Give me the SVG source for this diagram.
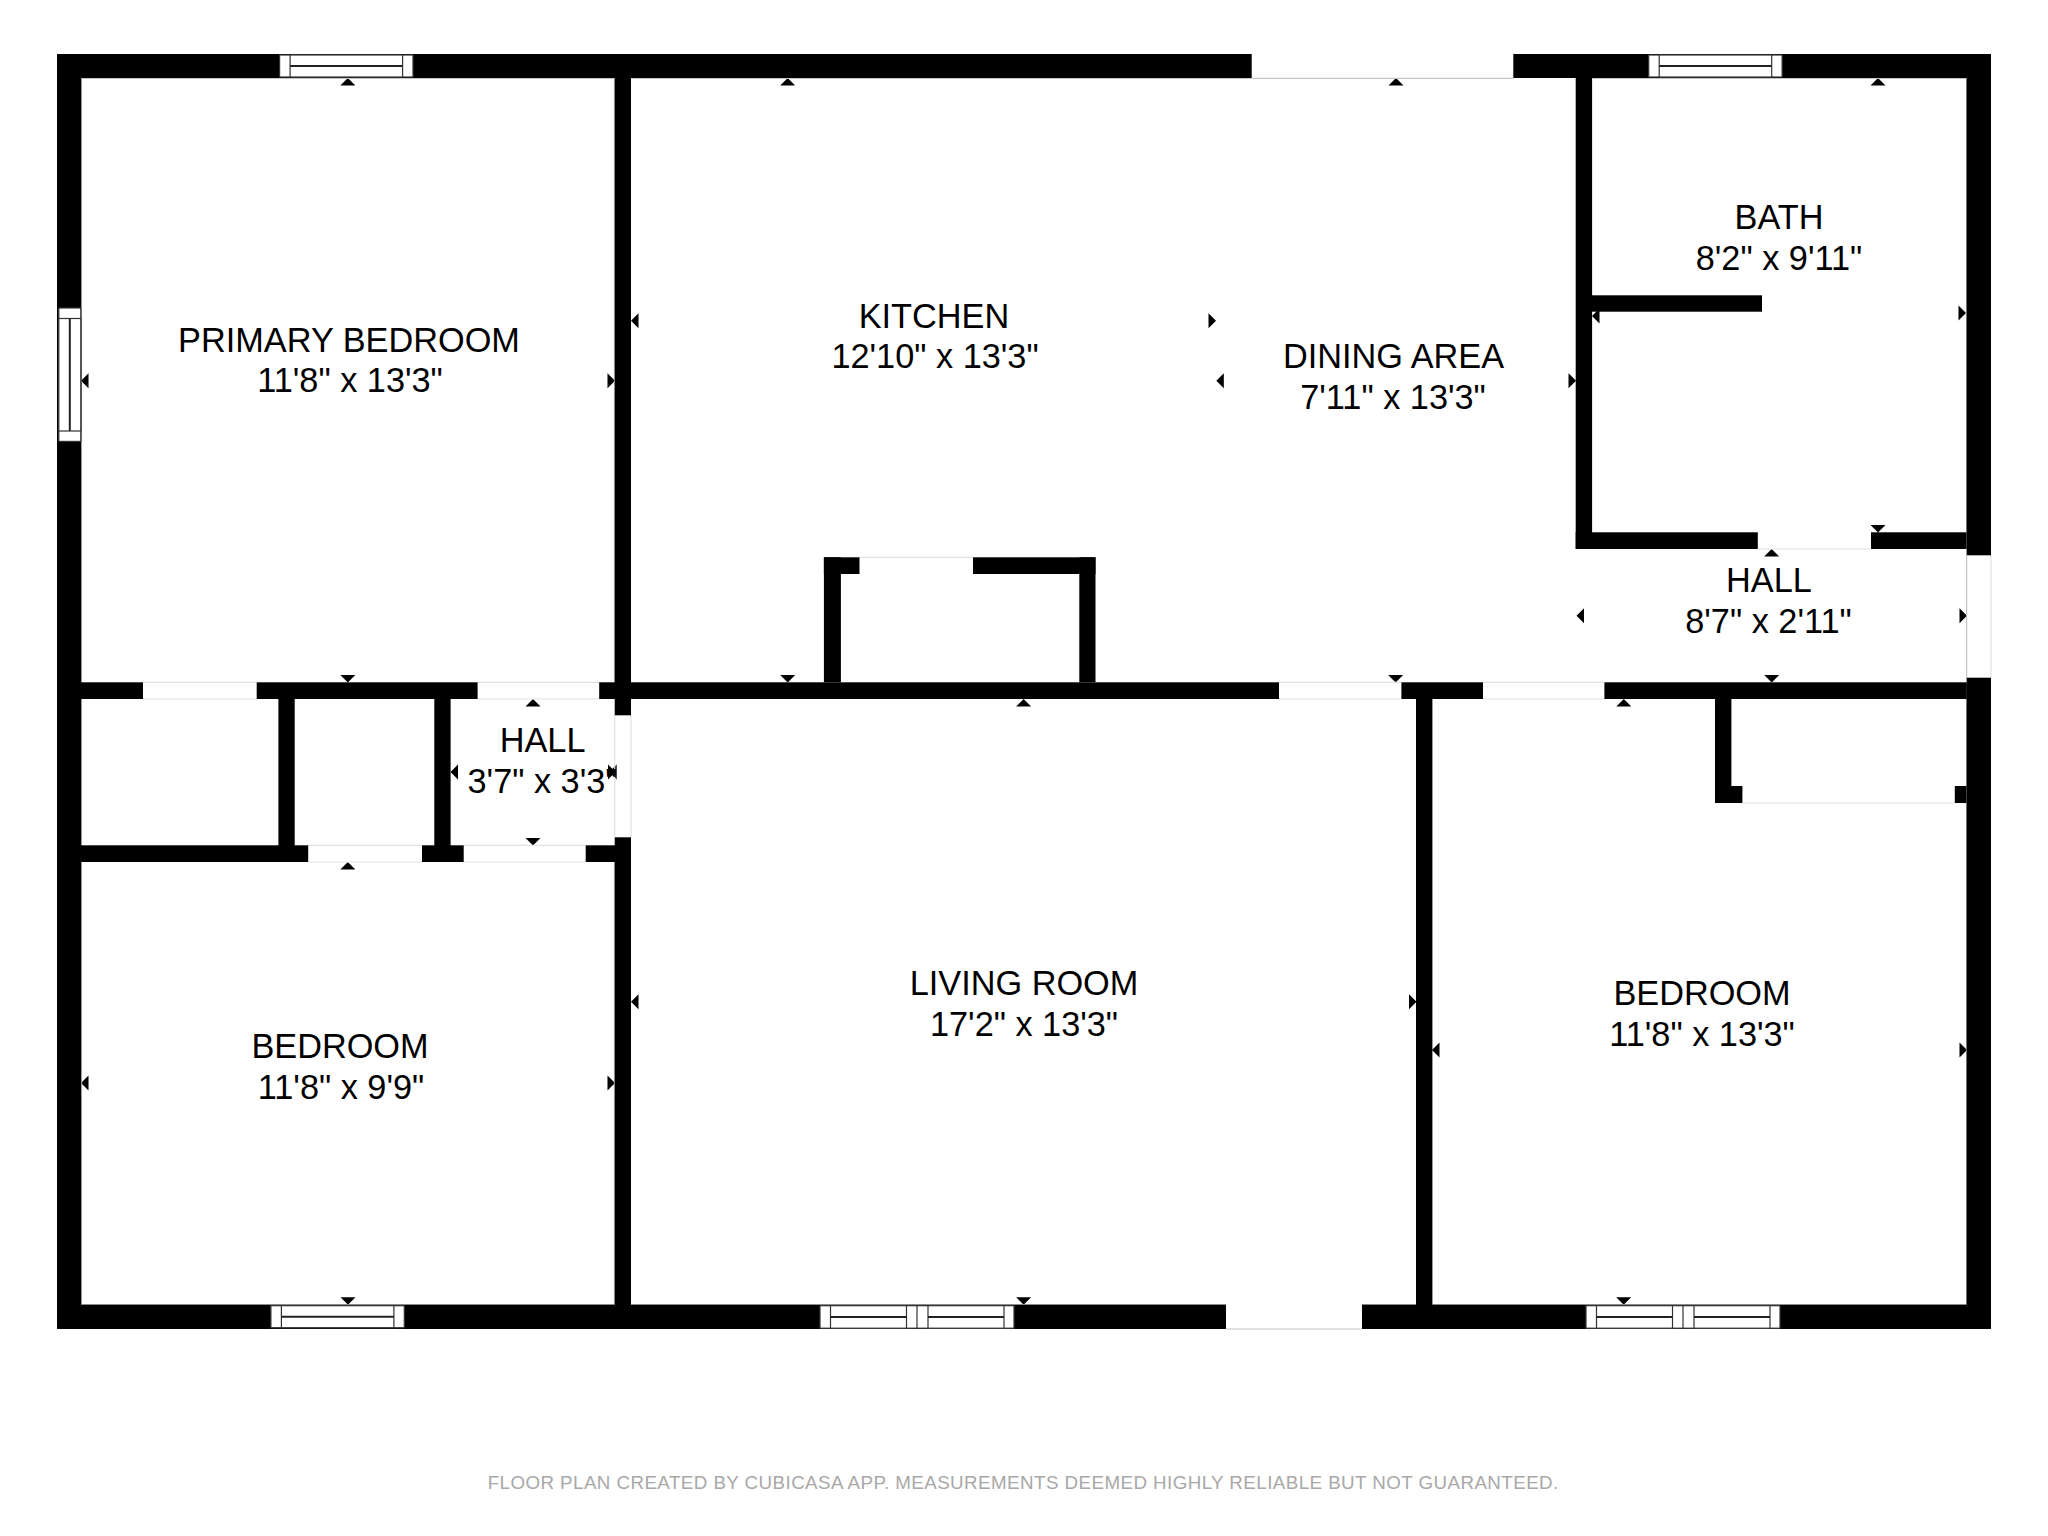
<svg xmlns="http://www.w3.org/2000/svg" width="2048" height="1536" viewBox="0 0 2048 1536">
<style>
.wall{fill:#000}
.edge{stroke:#c4c4c4;stroke-width:1.2;fill:none}
.gap{stroke:#e2e2e2;stroke-width:1.2;fill:none}
.win{fill:#fff;stroke:#333;stroke-width:1.2}
.mid{stroke:#222;stroke-width:2;fill:none}
.lab{font-family:"Liberation Sans",Arial,sans-serif;font-size:34.3px;fill:#000;text-anchor:middle}
.foot{font-family:"Liberation Sans",Arial,sans-serif;font-size:18.8px;letter-spacing:.42px;fill:#a8a8a8;text-anchor:middle}
</style>
<defs>
<path id="up" d="M-7.5 0L7.5 0L0 -7.5Z" fill="#000"/>
<path id="dn" d="M-7.5 0L7.5 0L0 7.5Z" fill="#000"/>
<path id="lt" d="M0 -7.5L0 7.5L-7.5 0Z" fill="#000"/>
<path id="rt" d="M0 -7.5L0 7.5L7.5 0Z" fill="#000"/>
<g id="winH1"><rect class="win" x="0" y="0" width="133.4" height="22"/><rect class="win" x="10.5" y="0" width="112.5" height="22"/><line class="mid" x1="10.5" y1="11" x2="123" y2="11"/></g>
<g id="winH2"><rect class="win" x="0" y="0" width="194" height="22.5"/><rect class="win" x="10.5" y="0" width="76" height="22.5"/><rect class="win" x="108" y="0" width="76" height="22.5"/><line class="win" x1="97" y1="0" x2="97" y2="22.5"/><line class="mid" x1="10.5" y1="11.2" x2="86.5" y2="11.2"/><line class="mid" x1="108" y1="11.2" x2="184" y2="11.2"/></g>
</defs>
<rect width="2048" height="1536" fill="#fff"/>

<g id="dimension-ticks">
<use href="#up" x="347.8" y="85.5"/><use href="#up" x="787.7" y="85.5"/><use href="#up" x="1396" y="85.5"/><use href="#up" x="1878" y="85.5"/>
<use href="#lt" x="88.5" y="380.7"/><use href="#rt" x="607.5" y="380.7"/><use href="#lt" x="638.5" y="320.7"/><use href="#rt" x="1208.5" y="320.7"/><use href="#lt" x="1223.8" y="380.7"/><use href="#rt" x="1568.5" y="380.7"/>
<use href="#lt" x="1599.5" y="316"/><use href="#rt" x="1958.5" y="313"/>
<use href="#dn" x="1878" y="525"/><use href="#up" x="1771.7" y="556.5"/><use href="#lt" x="1584" y="615.7"/><use href="#rt" x="1959.5" y="615.7"/><use href="#dn" x="1771.7" y="675"/>
<use href="#dn" x="347.8" y="675"/><use href="#dn" x="787.7" y="675"/><use href="#dn" x="1395.6" y="675"/>
<use href="#up" x="533" y="706.5"/><use href="#lt" x="458" y="772"/><use href="#rt" x="608" y="772"/><use href="#lt" x="616.7" y="772"/><use href="#dn" x="533" y="838"/>
<use href="#up" x="1023.6" y="706.5"/><use href="#up" x="1623.8" y="706.5"/><use href="#up" x="347.8" y="869.5"/>
<use href="#lt" x="638.5" y="1001.7"/><use href="#rt" x="1409" y="1001.7"/><use href="#lt" x="88.5" y="1083"/><use href="#rt" x="607.5" y="1083"/><use href="#lt" x="1439.5" y="1050"/><use href="#rt" x="1959.5" y="1050"/>
<use href="#dn" x="348" y="1297.2"/><use href="#dn" x="1023.6" y="1297.2"/><use href="#dn" x="1623.7" y="1297.2"/>
</g>

<g id="openings">
<path class="edge" d="M1251.7 78.3H1513.3M1226 1329H1362M1966.6 555.3V677.7"/>
<path class="gap" d="M143 682.3H256.7M143 699H256.7M477.6 682.3H599.2M477.6 699H599.2M308.2 845.3H422M308.2 862H422M463.7 845.3H585.7M463.7 862H585.7M631 715.3V837.3M614.7 715.3V837.3M859.5 557.3H973M1279 682.3H1401.4M1279 699H1401.4M1483 682.3H1604.4M1483 699H1604.4M1757.8 549H1871M1991 555.3V677.7M1742.4 803H1954.8"/>
<path class="edge" d="M81.5 78.5H614.5M631.5 78.5H1251M1592.5 78.5H1966.5M81.5 1304.5H614.5M631.5 1304.5H1226M1362 1304.5H1416M1432.5 1304.5H1966.5M81.5 78V1304M614.5 78V682M614.5 862V1304M1966.5 78V532M1966.5 699V786M1966.5 803V1304"/>
</g>

<g id="walls">
<rect class="wall" x="57" y="54" width="1194.7" height="24"/>
<rect class="wall" x="1513.3" y="54" width="477.7" height="24"/>
<rect class="wall" x="57" y="54" width="24.2" height="1275"/>
<rect class="wall" x="57" y="1304.7" width="1169" height="24.3"/>
<rect class="wall" x="1362" y="1304.7" width="629" height="24.3"/>
<rect class="wall" x="1966.6" y="54" width="24.4" height="501.3"/>
<rect class="wall" x="1966.6" y="677.7" width="24.4" height="651.3"/>
<rect class="wall" x="614.7" y="78" width="16.3" height="637.3"/>
<rect class="wall" x="614.7" y="837.3" width="16.3" height="468"/>
<rect class="wall" x="81" y="682.3" width="62" height="16.7"/>
<rect class="wall" x="256.7" y="682.3" width="220.9" height="16.7"/>
<rect class="wall" x="599.2" y="682.3" width="679.8" height="16.7"/>
<rect class="wall" x="1401.4" y="682.3" width="81.6" height="16.7"/>
<rect class="wall" x="1604.4" y="682.3" width="362.4" height="16.7"/>
<rect class="wall" x="81" y="845.3" width="227.2" height="16.7"/>
<rect class="wall" x="422" y="845.3" width="41.7" height="16.7"/>
<rect class="wall" x="585.7" y="845.3" width="29.3" height="16.7"/>
<rect class="wall" x="278.4" y="699" width="16.3" height="163"/>
<rect class="wall" x="434.3" y="699" width="16.3" height="163"/>
<rect class="wall" x="823.9" y="557.3" width="17" height="125"/>
<rect class="wall" x="1079.3" y="557.3" width="16.2" height="125"/>
<rect class="wall" x="823.9" y="557.3" width="35.6" height="16.7"/>
<rect class="wall" x="973" y="557.3" width="122.5" height="16.7"/>
<rect class="wall" x="1416" y="699" width="16.4" height="606"/>
<rect class="wall" x="1575.7" y="78" width="16.4" height="471"/>
<rect class="wall" x="1592" y="295.3" width="170" height="16.4"/>
<rect class="wall" x="1575.7" y="532.3" width="182.1" height="16.7"/>
<rect class="wall" x="1871" y="532.3" width="95.6" height="16.7"/>
<rect class="wall" x="1715" y="699" width="16.4" height="104"/>
<rect class="wall" x="1715" y="786" width="27.4" height="17"/>
<rect class="wall" x="1954.8" y="786" width="11.8" height="17"/>
</g>

<g id="windows">
<use href="#winH1" x="279.6" y="55"/>
<use href="#winH1" x="1648.7" y="55"/>
<use href="#winH1" transform="translate(80.8 308) rotate(90)"/>
<use href="#winH1" x="270.9" y="1305.7"/>
<use href="#winH2" x="820" y="1305.7"/>
<use href="#winH2" x="1586" y="1305.7"/>
</g>

<g id="room-primary-bedroom"><text class="lab" x="349" y="351.7">PRIMARY BEDROOM</text><text class="lab" x="350" y="392.2">11'8" x 13'3"</text></g>
<g id="room-kitchen"><text class="lab" x="934" y="327.5">KITCHEN</text><text class="lab" x="935" y="368.3">12'10" x 13'3"</text></g>
<g id="room-dining-area"><text class="lab" x="1393.5" y="367.7">DINING AREA</text><text class="lab" x="1393" y="408.5">7'11" x 13'3"</text></g>
<g id="room-bath"><text class="lab" x="1779" y="229">BATH</text><text class="lab" x="1779" y="269.7">8'2" x 9'11"</text></g>
<g id="room-hall-east"><text class="lab" x="1769" y="592.3">HALL</text><text class="lab" x="1768.5" y="633.3">8'7" x 2'11"</text></g>
<g id="room-hall-west"><text class="lab" x="542.6" y="751.7">HALL</text><text class="lab" x="542.5" y="792.7">3'7" x 3'3"</text></g>
<g id="room-living-room"><text class="lab" x="1024" y="995">LIVING ROOM</text><text class="lab" x="1024" y="1036">17'2" x 13'3"</text></g>
<g id="room-bedroom-east"><text class="lab" x="1702" y="1005">BEDROOM</text><text class="lab" x="1702" y="1046">11'8" x 13'3"</text></g>
<g id="room-bedroom-west"><text class="lab" x="340" y="1058">BEDROOM</text><text class="lab" x="341" y="1099">11'8" x 9'9"</text></g>
<text class="foot" x="1023.2" y="1489.3">FLOOR PLAN CREATED BY CUBICASA APP. MEASUREMENTS DEEMED HIGHLY RELIABLE BUT NOT GUARANTEED.</text>
</svg>
